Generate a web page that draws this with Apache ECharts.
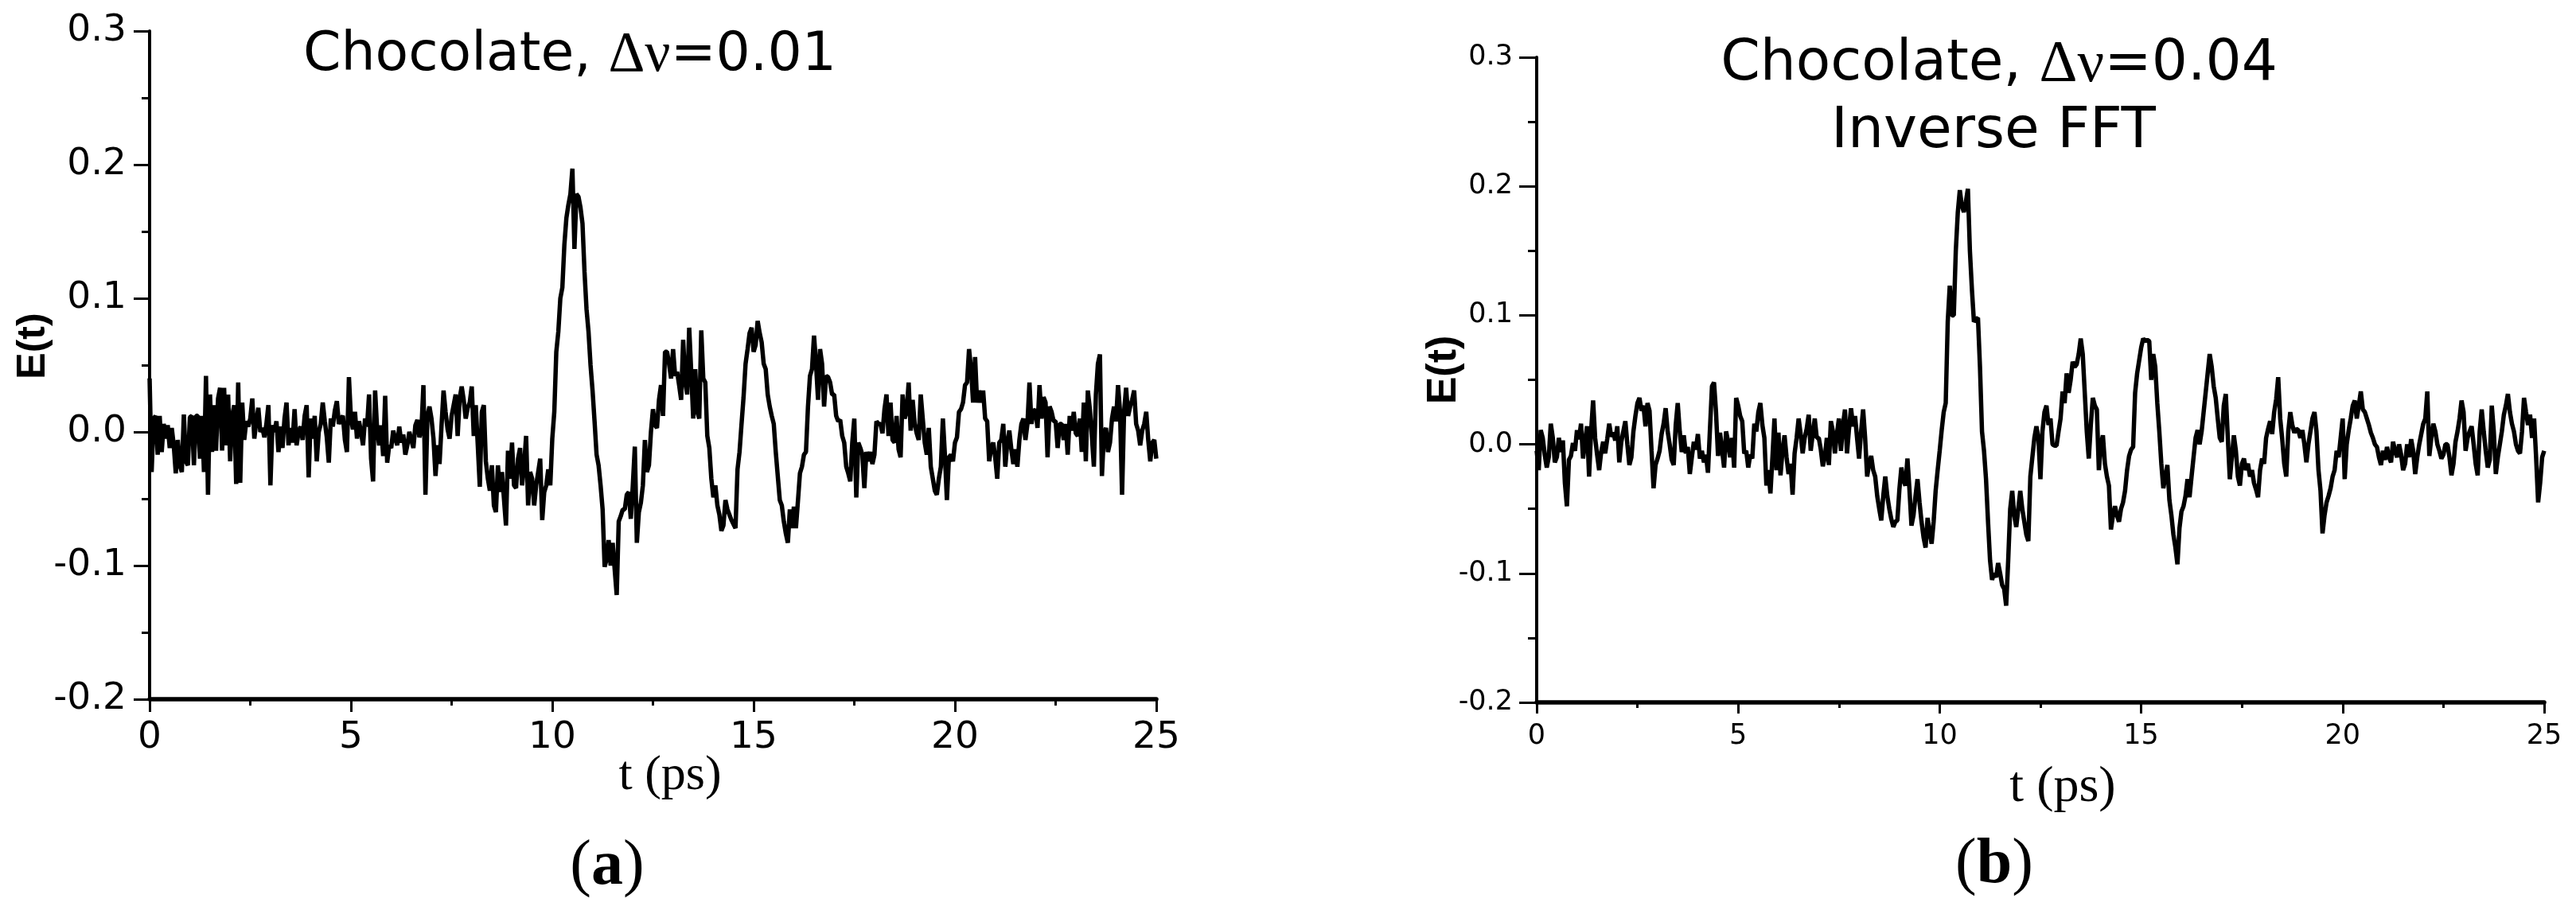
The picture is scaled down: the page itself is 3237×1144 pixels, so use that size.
<!DOCTYPE html>
<html>
<head>
<meta charset="utf-8">
<title>Chocolate E(t)</title>
<script src="https://cdn.jsdelivr.net/npm/echarts@6/dist/echarts.min.js"></script>
<style>
  html, body { margin: 0; padding: 0; background: #fff; }
  #chart { width: 3237px; height: 1144px; }
</style>
</head>
<body>
<div id="chart"></div>
<script>
// sampling step of each trace (ps)
const stepA = 0.05;
const stepB = 0.05;

// (a) Chocolate, dv = 0.01 -- E(t) from t = 0 to 25 ps, one row per ps
const eFieldA = [
  0.040, -0.030, 0.010, 0.012, -0.017, 0.012, -0.015, 0.006, -0.005, 0.005, -0.012, 0.003, -0.010, -0.031, -0.006, -0.025, -0.030, 0.013, -0.022, -0.025,
  0.011, 0.012, -0.025, 0.012, 0.012, -0.020, 0.012, -0.030, 0.042, -0.047, 0.028, -0.015, 0.020, -0.014, 0.025, 0.033, -0.014, 0.033, -0.010, 0.028,
  -0.022, 0.012, 0.020, -0.039, 0.037, -0.038, 0.022, -0.006, 0.008, 0.004, 0.010, 0.025, -0.005, 0.008, 0.018, 0.000, 0.003, -0.004, 0.006, 0.020,
  -0.040, 0.005, 0.000, 0.008, -0.015, 0.004, -0.012, 0.010, 0.022, -0.010, 0.003, -0.008, 0.017, -0.010, 0.000, 0.004, -0.006, 0.012, 0.020, -0.034,
  0.010, -0.005, 0.012, -0.022, 0.000, 0.006, 0.022, 0.008, -0.004, -0.023, 0.010, 0.004, 0.016, 0.023, 0.006, 0.010, 0.012, -0.006, -0.015, 0.041,
  0.010, 0.002, 0.015, -0.005, 0.008, 0.000, -0.010, 0.010, 0.004, 0.028, -0.020, -0.037, 0.031, 0.002, -0.010, 0.005, -0.018, 0.027, -0.023, -0.010,
  -0.012, 0.001, -0.005, -0.010, 0.004, -0.008, -0.002, -0.017, -0.010, 0.000, -0.006, -0.012, 0.005, 0.009, -0.004, 0.002, 0.035, -0.047, 0.012, 0.019,
  0.010, -0.005, -0.033, -0.010, -0.024, 0.005, 0.031, 0.015, 0.002, -0.005, 0.012, 0.020, 0.028, -0.003, 0.025, 0.034, 0.024, 0.010, 0.018, 0.022,
  0.034, -0.003, 0.020, -0.010, -0.041, 0.015, 0.020, -0.022, -0.035, -0.044, -0.025, -0.055, -0.060, -0.025, -0.045, -0.030, -0.050, -0.070, -0.014, -0.035,
  -0.008, -0.040, -0.042, -0.020, -0.012, -0.040, -0.025, -0.003, -0.055, -0.030, -0.035, -0.055, -0.040, -0.030, -0.020, -0.066, -0.045, -0.040, -0.028, -0.040,
  -0.005, 0.015, 0.060, 0.075, 0.100, 0.108, 0.140, 0.160, 0.170, 0.178, 0.197, 0.137, 0.178, 0.176, 0.168, 0.156, 0.120, 0.092, 0.075, 0.050,
  0.031, 0.008, -0.017, -0.025, -0.040, -0.058, -0.101, -0.095, -0.081, -0.100, -0.083, -0.103, -0.122, -0.067, -0.063, -0.058, -0.058, -0.047, -0.045, -0.065,
  -0.040, -0.011, -0.083, -0.060, -0.053, -0.040, -0.006, -0.030, -0.025, 0.000, 0.017, 0.005, 0.003, 0.024, 0.035, 0.012, 0.060, 0.060, 0.051, 0.040,
  0.062, 0.042, 0.045, 0.035, 0.024, 0.069, 0.038, 0.028, 0.078, 0.045, 0.010, 0.047, 0.015, 0.010, 0.076, 0.040, 0.037, -0.003, -0.012, -0.035,
  -0.049, -0.040, -0.055, -0.062, -0.074, -0.070, -0.051, -0.058, -0.062, -0.066, -0.069, -0.072, -0.028, -0.015, 0.006, 0.026, 0.051, 0.062, 0.074, 0.078,
  0.060, 0.065, 0.083, 0.074, 0.067, 0.051, 0.047, 0.028, 0.019, 0.012, 0.006, -0.015, -0.033, -0.051, -0.055, -0.067, -0.076, -0.083, -0.058, -0.072,
  -0.056, -0.072, -0.052, -0.031, -0.026, -0.017, -0.015, 0.019, 0.042, 0.047, 0.072, 0.051, 0.024, 0.062, 0.051, 0.019, 0.042, 0.041, 0.037, 0.028,
  0.028, 0.012, 0.008, 0.009, -0.003, -0.008, -0.026, -0.031, -0.037, -0.008, 0.010, -0.049, -0.008, -0.012, -0.017, -0.042, -0.015, -0.022, -0.015, -0.024,
  -0.017, 0.008, 0.006, 0.006, -0.001, 0.017, 0.028, -0.003, 0.022, -0.006, -0.008, 0.012, -0.013, -0.019, 0.028, 0.010, 0.015, 0.037, 0.001, 0.024,
  0.006, -0.001, -0.006, 0.028, 0.010, -0.008, -0.017, 0.003, -0.026, -0.035, -0.044, -0.047, -0.035, -0.026, 0.010, -0.017, -0.051, -0.019, -0.017, -0.022,
  -0.008, -0.004, 0.015, 0.017, 0.022, 0.035, 0.037, 0.062, 0.047, 0.022, 0.056, 0.022, 0.031, 0.022, 0.031, 0.010, 0.008, -0.022, -0.012, -0.008,
  -0.019, -0.035, -0.008, -0.006, 0.006, -0.026, -0.008, 0.001, -0.013, -0.024, -0.013, -0.026, -0.006, 0.006, 0.010, -0.006, 0.006, 0.037, 0.006, 0.015,
  0.017, 0.003, 0.035, 0.010, 0.026, 0.022, -0.019, 0.019, 0.015, 0.008, 0.008, -0.012, 0.006, 0.006, -0.006, 0.006, -0.017, 0.012, 0.001, 0.015,
  -0.001, -0.003, 0.010, -0.015, 0.022, -0.022, 0.031, 0.017, -0.003, -0.026, 0.028, 0.051, 0.058, -0.033, -0.001, 0.003, -0.015, -0.008, 0.010, 0.019,
  0.008, 0.035, 0.015, -0.047, 0.015, 0.033, 0.012, 0.019, 0.024, 0.031, 0.006, 0.001, -0.010, 0.001, 0.006, 0.015, -0.006, -0.022, -0.008, -0.006,
  -0.020
];

// (b) Chocolate, dv = 0.04, inverse FFT -- one row per ps
const eFieldB = [
  -0.005, -0.020, 0.011, 0.005, -0.008, -0.018, -0.010, 0.016, 0.005, -0.014, -0.010, 0.005, -0.006, 0.003, -0.030, -0.048, -0.012, -0.009, 0.001, -0.005,
  0.011, 0.004, 0.016, -0.011, 0.002, 0.014, -0.025, 0.010, 0.034, 0.005, -0.008, -0.020, -0.006, 0.002, -0.007, 0.004, 0.016, 0.006, 0.009, 0.003,
  0.014, -0.014, 0.002, 0.010, 0.018, 0.000, -0.016, -0.010, 0.010, 0.022, 0.032, 0.036, 0.026, 0.030, 0.014, 0.032, 0.026, -0.005, -0.034, -0.016,
  -0.011, -0.005, 0.008, 0.016, 0.028, 0.010, 0.000, -0.012, -0.016, 0.015, 0.032, 0.010, -0.006, 0.007, -0.007, -0.002, -0.023, -0.010, 0.002, -0.004,
  0.008, -0.011, -0.005, -0.014, -0.008, -0.022, 0.012, 0.045, 0.048, 0.025, -0.009, 0.009, -0.004, -0.018, 0.010, 0.002, -0.010, 0.005, -0.018, 0.036,
  0.030, 0.022, 0.018, -0.007, -0.005, -0.018, -0.008, -0.011, 0.016, 0.010, 0.025, 0.032, 0.015, 0.005, -0.032, -0.020, -0.038, -0.010, 0.020, -0.020,
  0.009, -0.024, -0.005, 0.007, -0.010, -0.023, -0.015, -0.039, -0.007, 0.005, 0.020, 0.008, -0.007, 0.005, 0.012, 0.023, -0.005, 0.008, 0.020, 0.005,
  0.005, -0.004, -0.017, -0.010, 0.005, -0.016, 0.018, 0.010, -0.007, 0.008, 0.020, -0.005, 0.015, 0.027, -0.007, 0.012, 0.028, 0.014, 0.022, 0.005,
  -0.011, 0.010, 0.027, 0.005, -0.025, -0.015, -0.009, -0.020, -0.025, -0.040, -0.050, -0.059, -0.040, -0.025, -0.040, -0.050, -0.058, -0.064, -0.060, -0.059,
  -0.035, -0.018, -0.028, -0.032, -0.011, -0.035, -0.063, -0.055, -0.040, -0.027, -0.045, -0.060, -0.072, -0.080, -0.057, -0.068, -0.077, -0.060, -0.036, -0.020,
  -0.005, 0.011, 0.025, 0.032, 0.095, 0.123, 0.100, 0.100, 0.150, 0.180, 0.197, 0.185, 0.180, 0.188, 0.198, 0.150, 0.120, 0.095, 0.097, 0.098,
  0.060, 0.010, -0.005, -0.027, -0.060, -0.090, -0.105, -0.100, -0.103, -0.092, -0.100, -0.109, -0.112, -0.125, -0.090, -0.050, -0.036, -0.055, -0.064, -0.050,
  -0.036, -0.050, -0.060, -0.070, -0.075, -0.025, -0.010, 0.005, 0.014, 0.005, -0.027, 0.010, 0.025, 0.030, 0.015, 0.020, 0.000, -0.001, -0.001, 0.010,
  0.020, 0.041, 0.032, 0.055, 0.040, 0.050, 0.064, 0.060, 0.062, 0.070, 0.082, 0.070, 0.040, 0.010, -0.011, 0.015, 0.036, 0.030, 0.027, -0.020,
  0.000, 0.007, -0.015, -0.025, -0.032, -0.066, -0.055, -0.048, -0.055, -0.060, -0.050, -0.045, -0.036, -0.020, -0.009, -0.004, -0.002, 0.040, 0.055, 0.065,
  0.075, 0.082, 0.080, 0.081, 0.080, 0.050, 0.070, 0.060, 0.032, 0.010, -0.015, -0.034, -0.025, -0.016, -0.043, -0.055, -0.070, -0.080, -0.093, -0.065,
  -0.052, -0.048, -0.040, -0.027, -0.041, -0.025, -0.010, 0.005, 0.011, 0.000, 0.010, 0.025, 0.040, 0.055, 0.070, 0.060, 0.045, 0.036, 0.020, 0.005,
  0.002, 0.030, 0.039, 0.005, -0.027, -0.010, 0.007, -0.005, -0.025, -0.032, -0.015, -0.011, -0.020, -0.015, -0.025, -0.020, -0.030, -0.035, -0.041, -0.020,
  -0.011, -0.015, 0.005, 0.012, 0.018, 0.008, 0.025, 0.035, 0.052, 0.020, 0.004, -0.015, -0.025, 0.010, 0.025, 0.015, 0.009, 0.012, 0.011, 0.005,
  0.011, 0.000, -0.014, 0.000, 0.010, 0.020, 0.025, 0.010, -0.020, -0.036, -0.069, -0.055, -0.045, -0.040, -0.034, -0.025, -0.020, -0.005, -0.010, 0.005,
  0.020, -0.027, 0.000, 0.011, 0.020, 0.030, 0.034, 0.020, 0.030, 0.041, 0.027, 0.025, 0.020, 0.015, 0.009, 0.005, 0.000, -0.002, -0.010, -0.016,
  -0.005, -0.012, -0.002, -0.010, -0.014, 0.002, -0.005, -0.010, 0.000, -0.008, -0.020, -0.015, 0.000, -0.010, 0.004, -0.005, -0.023, -0.010, 0.000, 0.008,
  0.016, 0.020, 0.041, -0.009, 0.005, 0.016, 0.010, 0.000, -0.005, -0.011, -0.008, 0.000, 0.000, -0.010, -0.024, -0.015, 0.002, 0.010, 0.020, 0.034,
  0.025, -0.005, 0.005, 0.010, 0.014, 0.000, -0.015, -0.024, 0.010, 0.027, 0.010, -0.005, -0.018, -0.012, 0.030, 0.010, -0.023, -0.010, 0.000, 0.010,
  0.023, 0.030, 0.039, 0.025, 0.016, 0.010, 0.000, -0.005, -0.007, 0.010, 0.036, 0.025, 0.015, 0.023, 0.005, 0.020, -0.010, -0.045, -0.030, -0.010,
  -0.005
];

const titleA = ["Chocolate, ", "Δν", "=0.01"];
const titleB = ["Chocolate, ", "Δν", "=0.04"];
const titleB2 = "Inverse FFT";

const sans = "DejaVu Sans";
const serif = "Liberation Serif";

function pairs(values, step) {
  return values.map((v, i) => [Math.round(i * step * 100) / 100, v]);
}

function fmtY(v) {
  return Math.abs(v) < 1e-9 ? "0.0" : v.toFixed(1);
}

function xAxisFor(grid, fontSize, margin, tickLen) {
  return {
    type: "value",
    gridIndex: grid,
    min: 0,
    max: 25,
    interval: 5,
    axisLine: { onZero: false, lineStyle: { color: "#000", width: 5.5 } },
    axisTick: { inside: false, length: tickLen, lineStyle: { color: "#000", width: 3 } },
    minorTick: { show: true, splitNumber: 2, length: tickLen / 2, lineStyle: { color: "#000", width: 3 } },
    splitLine: { show: false },
    axisLabel: {
      color: "#000",
      fontFamily: sans,
      fontSize: fontSize,
      margin: margin,
      showMinLabel: true,
      showMaxLabel: true,
    },
  };
}

function yAxisFor(grid, fontSize, margin, tickLen) {
  return {
    type: "value",
    gridIndex: grid,
    min: -0.2,
    max: 0.3,
    interval: 0.1,
    axisLine: { show: true, onZero: false, lineStyle: { color: "#000", width: 4 } },
    axisTick: { show: true, inside: false, length: tickLen, lineStyle: { color: "#000", width: 3 } },
    minorTick: { show: true, splitNumber: 2, length: tickLen / 2, lineStyle: { color: "#000", width: 3 } },
    splitLine: { show: false },
    axisLabel: {
      color: "#000",
      fontFamily: sans,
      fontSize: fontSize,
      margin: margin,
      formatter: fmtY,
      showMinLabel: true,
      showMaxLabel: true,
    },
  };
}

function richTitle(parts, x, y, size) {
  return {
    type: "text",
    x: x,
    y: y,
    style: {
      text: "{s|" + parts[0] + "}{g|" + parts[1] + "}{s|" + parts[2] + "}",
      rich: {
        s: { fontFamily: sans, fontSize: size, fill: "#000" },
        g: { fontFamily: serif, fontSize: size * 1.05, fill: "#000" },
      },
      fill: "#000",
      align: "center",
      verticalAlign: "middle",
    },
  };
}

function plainText(text, x, y, font, rotation) {
  return {
    type: "text",
    x: x,
    y: y,
    rotation: rotation || 0,
    style: { text: text, font: font, fill: "#000", align: "center", verticalAlign: "middle" },
  };
}

function panelTag(letter, x, y) {
  return {
    type: "text",
    x: x,
    y: y,
    style: {
      text: "{p|(}{b|" + letter + "}{p|)}",
      rich: {
        p: { fontFamily: serif, fontSize: 80, fill: "#000" },
        b: { fontFamily: serif, fontSize: 80, fontWeight: "bold", fill: "#000" },
      },
      align: "center",
      verticalAlign: "middle",
    },
  };
}

const option = {
  backgroundColor: "#fff",
  animation: false,
  grid: [
    { left: 188, top: 39, width: 1265, height: 840, containLabel: false, outerBoundsMode: "none" },
    { left: 1931, top: 72, width: 1266, height: 811, containLabel: false, outerBoundsMode: "none" },
  ],
  xAxis: [xAxisFor(0, 47, 25, 16), xAxisFor(1, 35, 25, 14)],
  yAxis: [yAxisFor(0, 47, 29, 20), yAxisFor(1, 35, 30, 22)],
  series: [
    {
      type: "line",
      xAxisIndex: 0,
      yAxisIndex: 0,
      data: pairs(eFieldA, stepA),
      symbol: "none",
      lineStyle: { color: "#000", width: 5.5 },
    },
    {
      type: "line",
      xAxisIndex: 1,
      yAxisIndex: 1,
      data: pairs(eFieldB, stepB),
      symbol: "none",
      lineStyle: { color: "#000", width: 5.5 },
    },
  ],
  graphic: [
    richTitle(titleA, 716, 70, 68),
    richTitle(titleB, 2512, 82, 71),
    plainText(titleB2, 2505, 167, "71px '" + sans + "'"),
    plainText("E(t)", 42, 435, "bold 50px 'Liberation Sans'", Math.PI / 2),
    plainText("E(t)", 1815, 465, "bold 52px 'Liberation Sans'", Math.PI / 2),
    plainText("t (ps)", 842, 976, "62px '" + serif + "'"),
    plainText("t (ps)", 2592, 990, "64px '" + serif + "'"),
    panelTag("a", 763, 1090),
    panelTag("b", 2506, 1088),
  ],
};

const chart = echarts.init(document.getElementById("chart"));
chart.setOption(option);
window.addEventListener("resize", () => {
  chart.resize();
});
</script>
</body>
</html>
